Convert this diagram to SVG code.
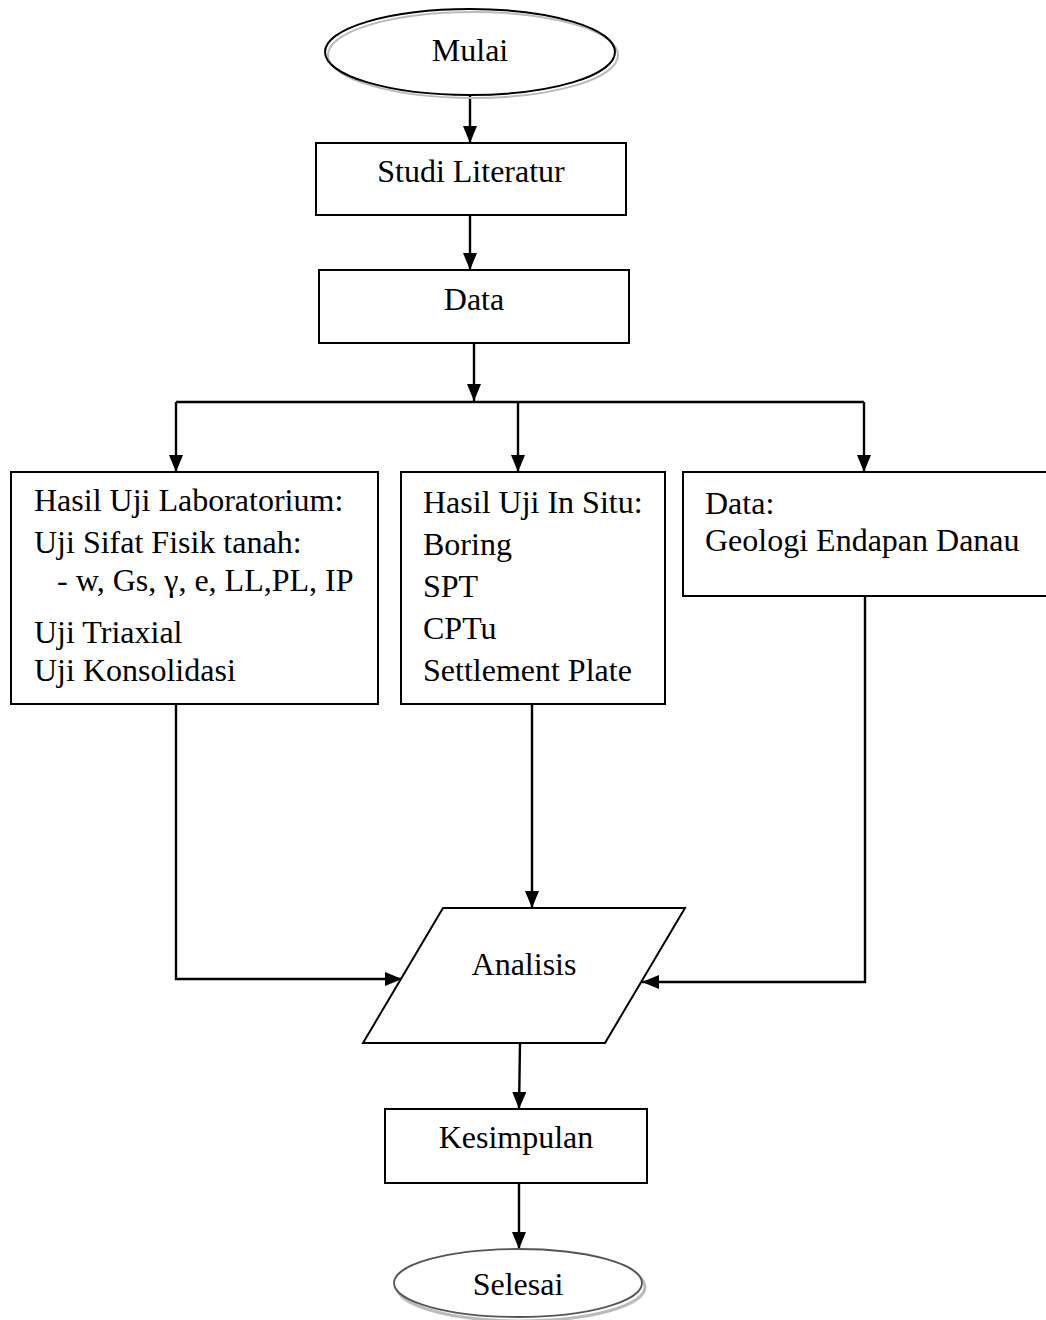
<svg xmlns="http://www.w3.org/2000/svg" width="1046" height="1320" viewBox="0 0 1046 1320">
<style>
text{font-family:"Liberation Serif","Times New Roman",serif;font-size:32px;fill:#000}
.c{text-anchor:middle}
.box{fill:#fff;stroke:#000;stroke-width:2}
.ln{fill:none;stroke:#000;stroke-width:2.4}
.sh{fill:none;stroke:#bbb;stroke-width:2}
</style>
<defs>
<marker id="ah" viewBox="0 0 17 14" refX="17" refY="7" markerWidth="17" markerHeight="14" markerUnits="userSpaceOnUse" orient="auto">
<path d="M0,0 L17,7 L0,14 Z" fill="#000"/>
</marker>
</defs>
<rect width="1046" height="1320" fill="#fff"/>
<g id="connectors">
<path class="ln" d="M470,96 V143" marker-end="url(#ah)"/>
<path class="ln" d="M470,215 V270" marker-end="url(#ah)"/>
<path class="ln" d="M474,343 V401" marker-end="url(#ah)"/>
<path class="ln" d="M176,402 H864"/>
<path class="ln" d="M176,402 V472" marker-end="url(#ah)"/>
<path class="ln" d="M518,402 V472" marker-end="url(#ah)"/>
<path class="ln" d="M864,402 V472" marker-end="url(#ah)"/>
<path class="ln" d="M176,704 V979 H402" marker-end="url(#ah)"/>
<path class="ln" d="M532,704 V908" marker-end="url(#ah)"/>
<path class="ln" d="M865,596 V982 H642" marker-end="url(#ah)"/>
<path class="ln" d="M520,1043 L519,1109" marker-end="url(#ah)"/>
<path class="ln" d="M519,1183 V1249" marker-end="url(#ah)"/>
</g>
<g id="mulai">
<ellipse class="sh" cx="473" cy="55" rx="145" ry="43"/>
<ellipse cx="470" cy="52" rx="145" ry="43" fill="none" stroke="#000" stroke-width="2"/>
<text class="c" x="470" y="61">Mulai</text>
</g>
<g id="studi">
<rect class="box" x="316" y="143" width="310" height="72"/>
<text class="c" x="471" y="182">Studi Literatur</text>
</g>
<g id="data">
<rect class="box" x="319" y="270" width="310" height="73"/>
<text class="c" x="474" y="310">Data</text>
</g>
<g id="lab">
<rect class="box" x="11" y="472" width="367" height="232"/>
<text x="34" y="511">Hasil Uji Laboratorium:</text>
<text x="34" y="553">Uji Sifat Fisik tanah:</text>
<text x="57" y="591">- w, Gs, γ, e, LL,PL, IP</text>
<text x="34" y="643">Uji Triaxial</text>
<text x="34" y="681">Uji Konsolidasi</text>
</g>
<g id="insitu">
<rect class="box" x="401" y="472" width="264" height="232"/>
<text x="423" y="513">Hasil Uji In Situ:</text>
<text x="423" y="555">Boring</text>
<text x="423" y="597">SPT</text>
<text x="423" y="639">CPTu</text>
<text x="423" y="681">Settlement Plate</text>
</g>
<g id="geologi">
<rect class="box" x="683" y="472" width="370" height="124"/>
<text x="705" y="514">Data:</text>
<text x="705" y="551">Geologi Endapan Danau</text>
</g>
<g id="analisis">
<polygon class="box" points="443,908 685,908 605,1043 363,1043"/>
<text class="c" x="524" y="975">Analisis</text>
</g>
<g id="kesimpulan">
<rect class="box" x="385" y="1109" width="262" height="74"/>
<text class="c" x="516" y="1148">Kesimpulan</text>
</g>
<g id="selesai">
<ellipse cx="521" cy="1287" rx="124" ry="34" fill="none" stroke="#bbb" stroke-width="3"/>
<ellipse cx="518" cy="1283" rx="124" ry="34" fill="#fff" stroke="#555" stroke-width="1.8"/>
<text class="c" x="518" y="1295">Selesai</text>
</g>
</svg>
